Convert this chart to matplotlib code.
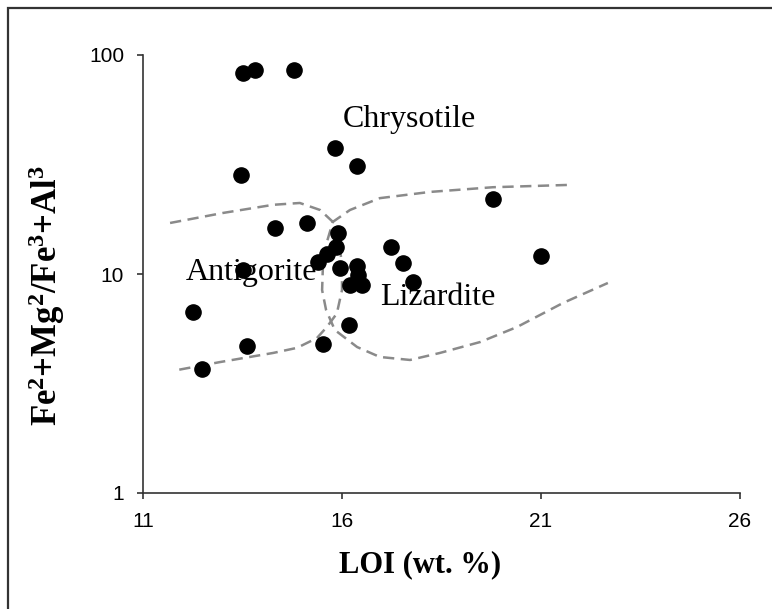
import numpy as np
import matplotlib
matplotlib.use("Agg")
import matplotlib.pyplot as plt
from matplotlib.patches import Rectangle

plt.rcParams['mathtext.fontset'] = 'custom'
plt.rcParams['mathtext.rm'] = 'Liberation Serif'
plt.rcParams['mathtext.bf'] = 'Liberation Serif:bold'

# sample points, LOI (wt. %) vs ratio
loi = [13.51, 13.81, 14.79, 15.82, 16.38, 13.46, 14.32, 15.12, 15.90, 15.85,
       15.62, 15.40, 15.95, 16.38, 16.40, 16.20, 16.50, 17.23, 17.53, 17.78,
       19.79, 20.99, 13.51, 12.26, 13.61, 12.48, 15.52, 16.18]
ratio = [82.8, 85.4, 85.4, 37.6, 31.1, 28.3, 16.2, 17.1, 15.4, 13.3,
         12.3, 11.3, 10.6, 10.9, 9.9, 8.9, 8.9, 13.3, 11.2, 9.2,
         22.0, 12.1, 10.4, 6.7, 4.7, 3.7, 4.8, 5.85]

# field boundaries (dashed)
antig_x = [11.68, 13.01, 14.27, 14.94, 15.45, 15.77, 15.92, 16.0, 16.0, 15.87,
           15.62, 15.37, 14.87, 14.27, 12.93, 11.85]
antig_y = [17.1, 19.0, 20.7, 21.1, 19.6, 17.3, 14.3, 11.0, 8.45, 6.6,
           5.73, 5.1, 4.6, 4.36, 3.96, 3.64]
liz_x = [21.65, 19.79, 18.21, 16.95, 16.2, 15.77, 15.6, 15.52, 15.5, 15.6,
         15.82, 16.38, 16.95, 17.71, 18.46, 19.47, 20.40, 21.55, 22.68]
liz_y = [25.5, 24.9, 23.7, 22.2, 19.6, 17.3, 13.6, 10.8, 8.45, 6.85,
         5.55, 4.64, 4.18, 4.05, 4.36, 4.89, 5.73, 7.37, 9.1]

fields = ['Chrysotile', 'Antigorite', 'Lizardite']
field_x = [16.03, 12.08, 16.95]
field_y = [50.5, 10.2, 7.85]

fig = plt.figure(figsize=(7.72, 6.09), dpi=100)
ax = fig.add_axes([143/772, 1-493/609, (740-143)/772, (493-55)/609])

dash = (0, (4.5, 2.6))
ax.plot(antig_x, antig_y, color='#8a8a8a', lw=1.8, linestyle=dash)
ax.plot(liz_x, liz_y, color='#8a8a8a', lw=1.8, linestyle=dash)
ax.scatter(loi, ratio, s=120, color='black', zorder=3)

for name, fx, fy in zip(fields, field_x, field_y):
    ax.text(fx, fy, name, family='Liberation Serif', fontsize=23, va='center', ha='left')

ax.set_yscale('log')
ax.set_ylim(1, 100)
ax.set_xlim(11, 26)
ax.set_xticks([11, 16, 21, 26])
ax.set_yticks([1, 10, 100])
ax.set_yticklabels(['1', '10', '100'])
ax.minorticks_off()

for s in ['top', 'right']:
    ax.spines[s].set_visible(False)
for s in ['left', 'bottom']:
    ax.spines[s].set_color('#333333')
    ax.spines[s].set_linewidth(1.2)
ax.tick_params(direction='out', length=4.5, width=1.2, color='#333333', pad=9,
               labelsize=15)
for lab in ax.get_xticklabels() + ax.get_yticklabels():
    lab.set_family('Liberation Sans')

fig.text(420/772, 1-565/609, 'LOI (wt. %)', family='Liberation Serif',
         fontweight='bold', fontsize=22, ha='center', va='center')
fig.text(47/772, 1-295/609, r'$\mathbf{Fe^{2}{+}Mg^{2}/Fe^{3}{+}Al^{3}}$',
         fontsize=25, rotation=90, ha='center', va='center')

fig.patches.append(Rectangle((8/772, -0.05), 1.2, 1-8/609+0.05, transform=fig.transFigure,
                             fill=False, edgecolor='#333333', lw=1.6))

fig.savefig('out.png', dpi=100)
